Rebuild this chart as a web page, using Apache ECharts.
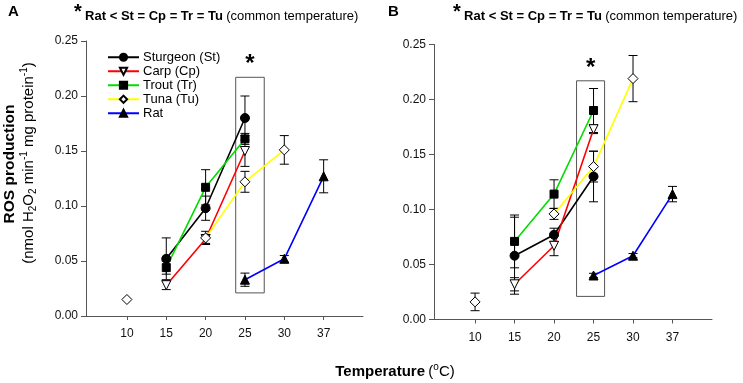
<!DOCTYPE html>
<html><head><meta charset="utf-8">
<script src="https://cdn.jsdelivr.net/npm/echarts@6/dist/echarts.min.js"></script>
<style>html,body{margin:0;padding:0;background:#fff}#c{width:743px;height:383px}</style>
</head><body><div id="c"></div>
<script>
var temps = ['10', '15', '20', '25', '30', '37'];
var seriesNames = ['Sturgeon (St)', 'Carp (Cp)', 'Trout (Tr)', 'Tuna (Tu)', 'Rat'];
var yTicks = [0, 0.05, 0.10, 0.15, 0.20, 0.25];

// Panel A
var sturgeonA = [null, 0.052, 0.098, 0.180, null, null];
var sturgeonAErr = [null, 0.019, 0.011, 0.020, null, null];
var carpA = [null, 0.028, 0.070, 0.150, null, null];
var carpAErr = [null, 0.004, 0.004, 0.014, null, null];
var troutA = [null, 0.044, 0.117, 0.161, null, null];
var troutAErr = [null, 0.006, 0.016, 0.005, null, null];
var tunaA = [0.015, null, 0.071, 0.122, 0.151, null];
var tunaAErr = [0, null, 0.006, 0.0095, 0.013, null];
var ratA = [null, null, null, 0.033, 0.052, 0.127];
var ratAErr = [null, null, null, 0.006, 0.003, 0.015];

// Panel B
var sturgeonB = [null, 0.058, 0.077, 0.130, null, null];
var sturgeonBErr = [null, 0.035, 0.006, 0.023, null, null];
var carpB = [null, 0.032, 0.067, 0.173, null, null];
var carpBErr = [null, 0.006, 0.009, 0.004, null, null];
var troutB = [null, 0.071, 0.114, 0.190, null, null];
var troutBErr = [null, 0.024, 0.013, 0.020, null, null];
var tunaB = [0.016, null, 0.096, 0.139, 0.219, null];
var tunaBErr = [0.008, null, 0.005, 0.014, 0.021, null];
var ratB = [null, null, null, 0.040, 0.058, 0.114];
var ratBErr = [null, null, null, 0.002, 0.002, 0.007];

var lineColors = ['#000000', '#ff0000', '#00dd00', '#ffff00', '#0000ff'];
var symbols = ['circle', 'triangle', 'rect', 'diamond', 'triangle'];
var symbolSizes = [9, 9, 8, 10, 9];
var symbolRotate = [0, 180, 0, 0, 0];
var filled = [true, false, true, false, true];

var FONT = '"Liberation Sans", Arial, sans-serif';

function toPts(arr) { return arr.map(function (v, i) { return [i, v]; }); }
function toErr(arr, err) {
  var out = [];
  arr.forEach(function (v, i) {
    if (v != null && err[i] != null && err[i] > 0) out.push([i, v - err[i], v + err[i]]);
  });
  return out;
}

var chart = echarts.init(document.getElementById('c'), null, { renderer: 'canvas' });

function xAxis(gi) {
  return {
    type: 'value', gridIndex: gi, min: -1.04, max: 6,
    axisLine: { show: true, onZero: false, lineStyle: { color: '#555', width: 1 } },
    axisTick: { show: true, length: 4, lineStyle: { color: '#555' }, customValues: [0, 1, 2, 3, 4, 5] },
    axisLabel: { show: true, customValues: [0, 1, 2, 3, 4, 5], margin: 12, color: '#111', fontSize: 12, fontFamily: FONT,
      formatter: function (v) { return temps[Math.round(v)]; } },
    splitLine: { show: false }
  };
}
function yAxis(gi) {
  return {
    type: 'value', gridIndex: gi, min: 0, max: 0.25, interval: 0.05,
    axisLine: { show: true, onZero: false, lineStyle: { color: '#555', width: 1 } },
    axisTick: { show: true, length: 5, lineStyle: { color: '#555' } },
    axisLabel: { margin: 8, color: '#111', fontSize: 12, fontFamily: FONT, formatter: function (v) { return v.toFixed(2); } },
    splitLine: { show: false }
  };
}

function errSeries(gi, data) {
  return {
    type: 'custom', xAxisIndex: gi, yAxisIndex: gi, z: 1, silent: true,
    data: data,
    renderItem: function (params, api) {
      var x = api.value(0);
      var lo = api.coord([x, api.value(1)]);
      var hi = api.coord([x, api.value(2)]);
      var w = 4.5;
      var st = { stroke: '#000', lineWidth: 1 };
      return { type: 'group', children: [
        { type: 'line', shape: { x1: lo[0], y1: lo[1], x2: hi[0], y2: hi[1] }, style: st },
        { type: 'line', shape: { x1: lo[0] - w, y1: lo[1], x2: lo[0] + w, y2: lo[1] }, style: st },
        { type: 'line', shape: { x1: hi[0] - w, y1: hi[1], x2: hi[0] + w, y2: hi[1] }, style: st }
      ] };
    }
  };
}

function lineSeries(gi, k, vals) {
  return {
    type: 'line', name: seriesNames[k], xAxisIndex: gi, yAxisIndex: gi, z: 3,
    data: toPts(vals), connectNulls: false,
    symbol: symbols[k], symbolSize: symbolSizes[k], symbolRotate: symbolRotate[k], showAllSymbol: true,
    lineStyle: { color: lineColors[k], width: 1.6 },
    itemStyle: { color: filled[k] ? '#000' : '#fff', borderColor: '#000', borderWidth: 1 },
    emphasis: { disabled: true }, animation: false
  };
}

var dataA = [sturgeonA, carpA, troutA, tunaA, ratA];
var errA = [sturgeonAErr, carpAErr, troutAErr, tunaAErr, ratAErr];
var dataB = [sturgeonB, carpB, troutB, tunaB, ratB];
var errB = [sturgeonBErr, carpBErr, troutBErr, tunaBErr, ratBErr];

var series = [];
[[dataA, errA], [dataB, errB]].forEach(function (p, gi) {
  p[0].forEach(function (vals, k) { series.push(errSeries(gi, toErr(vals, p[1][k]))); });
  p[0].forEach(function (vals, k) { series.push(lineSeries(gi, k, vals)); });
});

// significance boxes (annotations)
function boxSeries(gi, x1, x2) {
  return {
    type: 'line', xAxisIndex: gi, yAxisIndex: gi, data: [], silent: true,
    markArea: {
      silent: true,
      itemStyle: { color: 'rgba(0,0,0,0)', borderColor: '#555', borderWidth: 1 },
      label: { show: true, position: 'top', formatter: '*', fontSize: 24, fontWeight: 'bold', color: '#000', distance: 0, fontFamily: FONT },
      data: [[{ xAxis: x1, yAxis: 0.021 }, { xAxis: x2, yAxis: 0.217 }]]
    }
  };
}
series.push(boxSeries(0, 2.765, 3.49));
series.push(boxSeries(1, 2.57, 3.28));

function titleText(x, letter) {
  return [
    { type: 'text', left: letter === 'A' ? 8 : 388, top: 4, style: { text: letter, font: 'bold 15px ' + FONT, fill: '#000' } },
    { type: 'text', left: x, top: 2, style: {
      text: '{s|*} {b|Rat < St = Cp = Tr = Tu} {n|(common temperature)}',
      rich: {
        s: { font: 'bold 20px ' + FONT, fill: '#000', verticalAlign: 'top', lineHeight: 22 },
        b: { font: 'bold 13px ' + FONT, fill: '#000', lineHeight: 22, padding: [6, 0, 0, 0] },
        n: { font: '13px ' + FONT, fill: '#000', lineHeight: 22, padding: [6, 0, 0, 0] }
      } } }
  ];
}

var graphics = [].concat(titleText(74, 'A'), titleText(453, 'B'));
graphics.push({
  type: 'text', x: 10, y: 164, rotation: Math.PI / 2,
  style: { text: 'ROS production', font: 'bold 15.5px ' + FONT, fill: '#000', align: 'center', verticalAlign: 'middle' }
});
graphics.push({
  type: 'text', x: 29, y: 163, rotation: Math.PI / 2,
  style: {
    text: '{n|(nmol H}{sb|2}{n|O}{sb|2}{n| min}{sp|-1}{n| mg protein}{sp|-1}{n|)}',
    align: 'center', verticalAlign: 'middle',
    rich: {
      n: { font: '15px ' + FONT, fill: '#000', lineHeight: 19 },
      sb: { font: '10px ' + FONT, fill: '#000', lineHeight: 19, verticalAlign: 'bottom' },
      sp: { font: '10px ' + FONT, fill: '#000', lineHeight: 19, verticalAlign: 'top' }
    }
  }
});
graphics.push({
  type: 'text', x: 395, y: 372,
  style: {
    text: '{b|Temperature} {n|(}{sp|o}{n|C)}', align: 'center', verticalAlign: 'middle',
    rich: {
      b: { font: 'bold 15px ' + FONT, fill: '#000', lineHeight: 20 },
      n: { font: '15px ' + FONT, fill: '#000', lineHeight: 20 },
      sp: { font: '10px ' + FONT, fill: '#000', lineHeight: 20, verticalAlign: 'top' }
    }
  }
});

chart.setOption({
  animation: false,
  backgroundColor: '#fff',
  grid: [
    { left: 86, right: 380, top: 41, bottom: 67 },
    { left: 434, right: 31, top: 44.5, bottom: 63.5 }
  ],
  xAxis: [xAxis(0), xAxis(1)],
  yAxis: [yAxis(0), yAxis(1)],
  legend: {
    data: seriesNames, orient: 'vertical', left: 102, top: 45.5, itemWidth: 31, itemHeight: 9, itemGap: 0.5,
    textStyle: { fontSize: 13, lineHeight: 13.5, color: '#000', fontFamily: FONT, padding: [0, 0, 0, -1] },
    selectedMode: false
  },
  graphic: graphics,
  series: series
});
</script>
</body></html>
